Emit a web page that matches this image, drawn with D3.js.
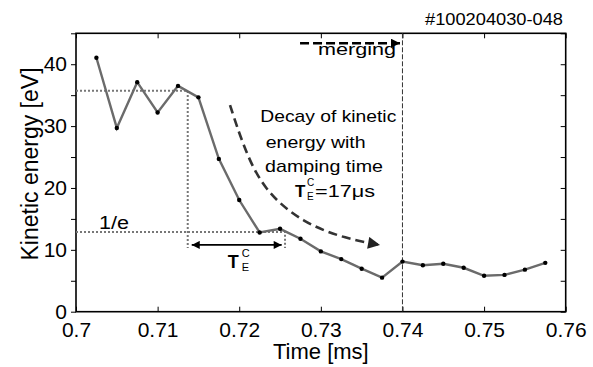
<!DOCTYPE html>
<html>
<head>
<meta charset="utf-8">
<script src="https://cdn.jsdelivr.net/npm/d3@7"></script>
<style>
  body { margin: 0; background: #fff; }
  svg { font-family: "Liberation Sans", Arial, sans-serif; }
</style>
</head>
<body>
<div id="chart"></div>
<script>
// sampled kinetic energy, time in ms
const times = [0.7025, 0.705, 0.7075, 0.71, 0.7125, 0.715, 0.7175, 0.72, 0.7225, 0.725, 0.7275, 0.73,
  0.7325, 0.735, 0.7375, 0.74, 0.7425, 0.745, 0.7475, 0.75, 0.7525, 0.755, 0.7575];
const energy = [41.05, 29.7, 37.1, 32.2, 36.5, 34.65, 24.7, 18.05, 12.8, 13.4, 11.8, 9.75,
  8.5, 6.95, 5.5, 8.1, 7.5, 7.75, 7.1, 5.8, 5.95, 6.8, 7.9];
const xTicks = [0.7, 0.71, 0.72, 0.73, 0.74, 0.75, 0.76];
const yTicks = [0, 5, 10, 15, 20, 25, 30, 35, 40, 45];
const yLabels = [0, 10, 20, 30, 40];
// damping-time construction
const levelStart = 35.7, levelE = 12.9;
const tStart = 0.71369, tE = 0.72561, mergeTime = 0.74;
const decayCurve = [[0.71887, 33.4], [0.72046, 26.9], [0.72291, 19.7], [0.72782, 14.3], [0.73321, 11.75], [0.73725, 10.8]];

const W = 593, H = 367;
const margin = { top: 33.3, right: 27.3, bottom: 55.3, left: 76 };
const width = W - margin.left - margin.right;
const height = H - margin.top - margin.bottom;

const svg = d3.select('#chart').append('svg')
  .attr('width', W).attr('height', H);

const defs = svg.append('defs');
const mk = (id, color, w, h) => defs.append('marker')
  .attr('id', id).attr('viewBox', '0 0 10 10')
  .attr('refX', 10).attr('refY', 5)
  .attr('markerUnits', 'userSpaceOnUse')
  .attr('markerWidth', w).attr('markerHeight', h)
  .attr('orient', 'auto-start-reverse')
  .append('path').attr('d', 'M0,0L10,5L0,10Z').attr('fill', color);
mk('headBlack', '#000', 11, 9);
mk('headDark', '#222', 13, 12);
mk('headSmall', '#000', 10, 8);

const g = svg.append('g').attr('transform', `translate(${margin.left},${margin.top})`);

const x = d3.scaleLinear().domain([0.7, 0.76]).range([0, width]);
const y = d3.scaleLinear().domain([0, 45]).range([height, 0]);

// frame + ticks
g.append('rect').attr('width', width).attr('height', height)
  .attr('fill', 'none').attr('stroke', '#000').attr('stroke-width', 1.6);

g.append('g').attr('transform', `translate(0,${height})`)
  .call(d3.axisBottom(x).tickValues(xTicks).tickSize(-5).tickFormat(d3.format('')).tickPadding(10))
  .call(a => a.select('.domain').remove())
  .call(a => a.selectAll('text').attr('font-size', 21).attr('fill', '#000').attr('font-family', null));
g.append('g')
  .call(d3.axisTop(x).tickValues(xTicks).tickSize(-5).tickFormat(''))
  .call(a => a.select('.domain').remove());
g.append('g')
  .call(d3.axisLeft(y).tickValues(yTicks).tickSize(5).tickPadding(4)
    .tickFormat(d => yLabels.includes(d) ? d : ''))
  .call(a => a.select('.domain').remove())
  .call(a => a.selectAll('text').attr('font-size', 21).attr('fill', '#000').attr('font-family', null)
    .attr('dy', '0.3em'));
g.append('g').attr('transform', `translate(${width},0)`)
  .call(d3.axisRight(y).tickValues(yTicks).tickSize(-5).tickFormat(''))
  .call(a => a.select('.domain').remove());

// axis titles
svg.append('text').attr('x', margin.left + width / 2).attr('y', 359)
  .attr('text-anchor', 'middle').attr('font-size', 22).text('Time [ms]');
svg.append('text').attr('transform', 'translate(38,164) rotate(-90)')
  .attr('text-anchor', 'middle').attr('font-size', 23).text('Kinetic energy [eV]');
svg.append('text').attr('x', 563).attr('y', 25).attr('text-anchor', 'end')
  .attr('font-size', 17).attr('textLength', 138).attr('lengthAdjust', 'spacingAndGlyphs')
  .text('#100204030-048');

// merging time
g.append('line').attr('x1', x(mergeTime)).attr('x2', x(mergeTime))
  .attr('y1', 0).attr('y2', height)
  .attr('stroke', '#333').attr('stroke-width', 1).attr('stroke-dasharray', '5,2');

// dotted reference lines
const dot = sel => sel.attr('stroke', '#777').attr('stroke-width', 2).attr('stroke-dasharray', '2,2').attr('fill', 'none');
const arrowLevel = 10.8, dropLevel = 10.3;
g.append('path').call(dot)
  .attr('d', d3.line()([[0, y(levelStart)], [x(tStart), y(levelStart)], [x(tStart), y(dropLevel)]]));
g.append('path').call(dot)
  .attr('d', d3.line()([[0, y(levelE)], [x(tE), y(levelE)], [x(tE), y(dropLevel)]]));

// data
const pts = times.map((t, i) => [t, energy[i]]);
g.append('path').datum(pts)
  .attr('fill', 'none').attr('stroke', '#6b6b6b').attr('stroke-width', 2.4)
  .attr('d', d3.line().x(d => x(d[0])).y(d => y(d[1])));
g.selectAll('circle.pt').data(pts).join('circle').attr('class', 'pt')
  .attr('cx', d => x(d[0])).attr('cy', d => y(d[1])).attr('r', 2.2).attr('fill', '#000');

// T_E arrow
g.append('line')
  .attr('x1', x(0.71418)).attr('x2', x(0.7252))
  .attr('y1', y(arrowLevel)).attr('y2', y(arrowLevel))
  .attr('stroke', '#000').attr('stroke-width', 1.6)
  .attr('marker-start', 'url(#headSmall)').attr('marker-end', 'url(#headSmall)');
const ax = x(0.71418), ay = y(arrowLevel);
g.append('text').attr('x', ax + 36).attr('y', ay + 23).attr('font-size', 18).attr('font-weight', 'bold').text('T');
g.append('text').attr('x', ax + 50).attr('y', ay + 12).attr('font-size', 11).text('C');
g.append('text').attr('x', ax + 50).attr('y', ay + 26).attr('font-size', 11).text('E');

g.append('text').attr('x', 23).attr('y', y(levelE) - 3).attr('font-size', 18)
  .attr('textLength', 30).attr('lengthAdjust', 'spacingAndGlyphs').text('1/e');

// merging arrow
g.append('line').attr('x1', x(0.72745)).attr('x2', x(0.7397))
  .attr('y1', y(43.4)).attr('y2', y(43.4))
  .attr('stroke', '#000').attr('stroke-width', 2.5).attr('stroke-dasharray', '9,4')
  .attr('marker-end', 'url(#headBlack)');
g.append('text').attr('x', x(0.72745) + 18).attr('y', y(43.4) + 12).attr('font-size', 17)
  .attr('textLength', 78).attr('lengthAdjust', 'spacingAndGlyphs').text('merging');

// decay arrow
g.append('path').datum(decayCurve)
  .attr('fill', 'none').attr('stroke', '#333').attr('stroke-width', 2.6).attr('stroke-dasharray', '9,5')
  .attr('marker-end', 'url(#headDark)')
  .attr('d', d3.line().curve(d3.curveBasis).x(d => x(d[0])).y(d => y(d[1])));

const lines = [
  { t: 'Decay of kinetic', at: [0.72258, 30.7], w: 136 },
  { t: 'energy with', at: [0.72324, 26.45], w: 100 },
  { t: 'damping time', at: [0.72316, 22.6], w: 118 }
];
lines.forEach(l => g.append('text').attr('x', x(l.at[0])).attr('y', y(l.at[1]))
  .attr('font-size', 17).attr('textLength', l.w).attr('lengthAdjust', 'spacingAndGlyphs').text(l.t));
const tx = x(0.72684), ty = y(18.5);
g.append('text').attr('x', tx).attr('y', ty).attr('font-size', 17).attr('font-weight', 'bold').text('T');
g.append('text').attr('x', tx + 12).attr('y', ty - 11).attr('font-size', 10).text('C');
g.append('text').attr('x', tx + 12).attr('y', ty + 3).attr('font-size', 10).text('E');
g.append('text').attr('x', tx + 20).attr('y', ty).attr('font-size', 17)
  .attr('textLength', 60).attr('lengthAdjust', 'spacingAndGlyphs').text('=17μs');
</script>
</body>
</html>
